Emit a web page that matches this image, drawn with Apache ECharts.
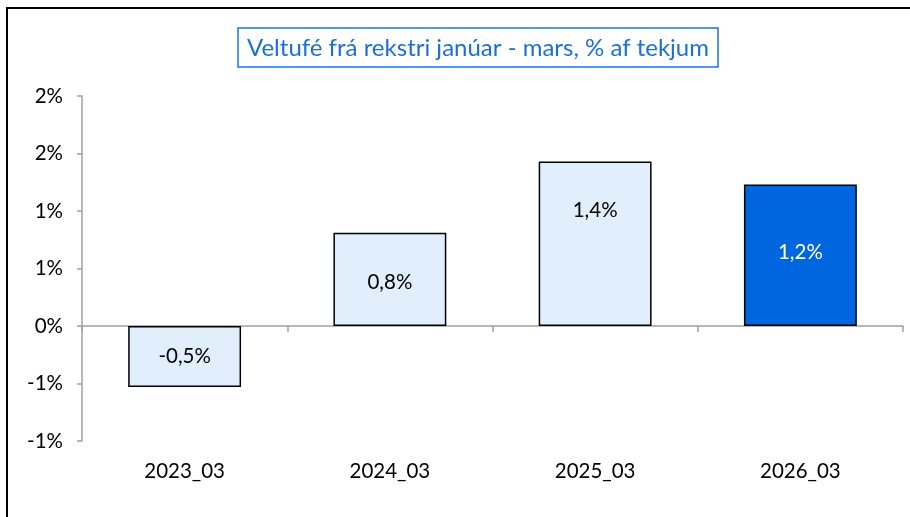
<!DOCTYPE html>
<html>
<head>
<meta charset="utf-8">
<script src="https://cdn.jsdelivr.net/npm/echarts@6/dist/echarts.min.js"></script>
<style>
  html, body {margin:0; padding:0; background:#fff;}
  #main {width:910px; height:517px;}
</style>
</head>
<body>
<div id="main"></div>
<script>
// gögn
const categories = ['2023_03', '2024_03', '2025_03', '2026_03'];
const values = [-0.53, 0.81, 1.43, 1.23];
const yTicks = {min: -1, max: 2, interval: 0.5};
const barColors = ['#e1eefc', '#e1eefc', '#e1eefc', '#0066e0'];
const labelColors = ['#000', '#000', '#000', '#fff'];
// merkið á 2025 stendur ofar í súlunni
const labelShift = [[0, 0], [0, 3], [0, -33], [0, -3]];

const fontName = 'Lato, "Open Sans", sans-serif';

// excel-style prósentur, án aukastafa
const pctTick = (v) => {
  const r = Math.round(Math.abs(v));
  return (v < 0 && r !== 0 ? '-' : '') + r + '%';
};

const chart = echarts.init(document.getElementById('main'));

const option = {
  backgroundColor: '#fff',
  animation: false,
  title: {
    text: 'Veltufé frá rekstri janúar - mars, % af tekjum',
    left: 238,
    top: 28,
    padding: [8, 9, 7, 9],
    borderColor: '#1a73e8',
    borderWidth: 1.5,
    textStyle: {fontFamily: fontName, fontSize: 24, fontWeight: 'normal', color: '#1a6fd8'}
  },
  graphic: [{
    type: 'rect',
    shape: {x: 7, y: 8, width: 920, height: 530},
    style: {fill: 'none', stroke: '#000', lineWidth: 2},
    silent: true
  }],
  grid: {left: 82, right: 7, top: 96, bottom: 76},
  xAxis: [{
    type: 'category',
    data: categories,
    axisLine: {onZero: true, lineStyle: {color: '#a0a0a0', width: 1.5}},
    axisTick: {show: true, inside: false, length: 6, lineStyle: {color: '#a0a0a0', width: 1.5}},
    axisLabel: {show: false}
  }, {
    type: 'category',
    data: categories,
    position: 'bottom',
    axisLine: {show: false, onZero: false},
    axisTick: {show: false},
    axisLabel: {margin: 20, fontFamily: fontName, fontSize: 20.5, color: '#000'}
  }],
  yAxis: {
    type: 'value',
    min: yTicks.min,
    max: yTicks.max,
    interval: yTicks.interval,
    splitLine: {show: false},
    axisLine: {show: true, lineStyle: {color: '#a0a0a0', width: 1.5}},
    axisTick: {show: true, length: 5, lineStyle: {color: '#a0a0a0', width: 1.5}},
    axisLabel: {
      margin: 19,
      fontFamily: fontName,
      fontSize: 20.5,
      color: '#000',
      formatter: pctTick
    }
  },
  series: [{
    type: 'bar',
    xAxisIndex: 0,
    barWidth: '55%',
    data: values.map((v, i) => ({
      value: v,
      itemStyle: {color: barColors[i], borderColor: '#000', borderWidth: 1.5},
      label: {color: labelColors[i], offset: labelShift[i]}
    })),
    label: {
      show: true,
      position: 'inside',
      fontFamily: fontName,
      fontSize: 20.5,
      formatter: (p) => p.value.toFixed(1).replace('.', ',') + '%'
    }
  }]
};

chart.setOption(option);
</script>
</body>
</html>
